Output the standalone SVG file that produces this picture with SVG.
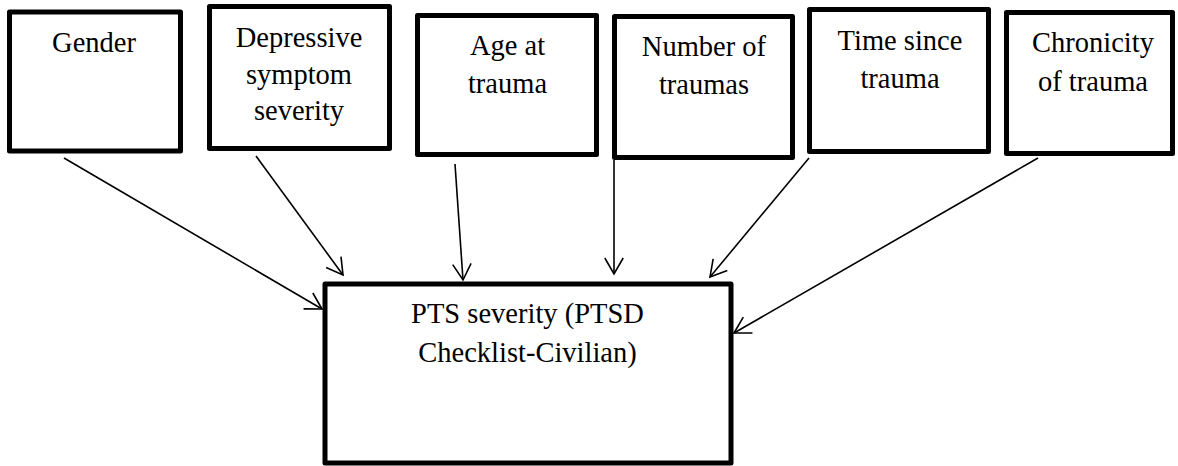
<svg xmlns="http://www.w3.org/2000/svg" width="1178" height="466" viewBox="0 0 1178 466">
<style>
.box{fill:#fff;stroke:#000;stroke-width:5;stroke-linejoin:round}
.t{font-family:'Liberation Serif','Times New Roman','DejaVu Serif',serif;font-size:28.5px;fill:#000;text-anchor:middle}
.c{fill:none;stroke:#000;stroke-width:1.6;marker-end:url(#ah)}
</style>
<defs>
<marker id="ah" markerUnits="userSpaceOnUse" markerWidth="24" markerHeight="24" viewBox="-18 -12 20 24" refX="0" refY="0" orient="auto" overflow="visible">
<path d="M-16,-9.2 L0,0 L-16,9.2" fill="none" stroke="#000" stroke-width="1.6"/>
</marker>
</defs>
<rect width="1178" height="466" fill="#fff"/>
<g id="connectors">
<line class="c" x1="64" y1="158" x2="322" y2="309"/>
<line class="c" x1="256" y1="156" x2="343" y2="275"/>
<line class="c" x1="455" y1="164" x2="463" y2="280"/>
<line class="c" x1="614" y1="160" x2="614" y2="274"/>
<line class="c" x1="809" y1="158" x2="710" y2="277"/>
<line class="c" x1="1038" y1="158" x2="734" y2="333"/>
</g>
<g id="gender">
<rect class="box" x="9.5" y="12" width="171" height="139"/>
<text class="t" font-family="Liberation Serif" x="94" y="52">Gender</text>
</g>
<g id="depressive">
<rect class="box" x="209.5" y="6.5" width="180" height="142"/>
<text class="t" font-family="Liberation Serif" x="299" y="47">Depressive</text>
<text class="t" font-family="Liberation Serif" x="299" y="83.5">symptom</text>
<text class="t" font-family="Liberation Serif" x="299" y="120">severity</text>
</g>
<g id="age">
<rect class="box" x="417.5" y="15.5" width="179" height="139"/>
<text class="t" font-family="Liberation Serif" x="507.5" y="55">Age at</text>
<text class="t" font-family="Liberation Serif" x="507.5" y="93">trauma</text>
</g>
<g id="number">
<rect class="box" x="614.5" y="16.5" width="178" height="141"/>
<text class="t" font-family="Liberation Serif" x="704" y="56">Number of</text>
<text class="t" font-family="Liberation Serif" x="704" y="94">traumas</text>
</g>
<g id="time">
<rect class="box" x="809.5" y="9.5" width="179" height="142"/>
<text class="t" font-family="Liberation Serif" x="900" y="50">Time since</text>
<text class="t" font-family="Liberation Serif" x="900" y="88">trauma</text>
</g>
<g id="chronicity">
<rect class="box" x="1006.5" y="12.5" width="166" height="141"/>
<text class="t" font-family="Liberation Serif" x="1093" y="52">Chronicity</text>
<text class="t" font-family="Liberation Serif" x="1093" y="91">of trauma</text>
</g>
<g id="pts">
<rect class="box" x="325" y="284" width="406" height="179"/>
<text class="t" font-family="Liberation Serif" x="527.5" y="323">PTS severity (PTSD</text>
<text class="t" font-family="Liberation Serif" x="527.5" y="362">Checklist-Civilian)</text>
</g>
</svg>
